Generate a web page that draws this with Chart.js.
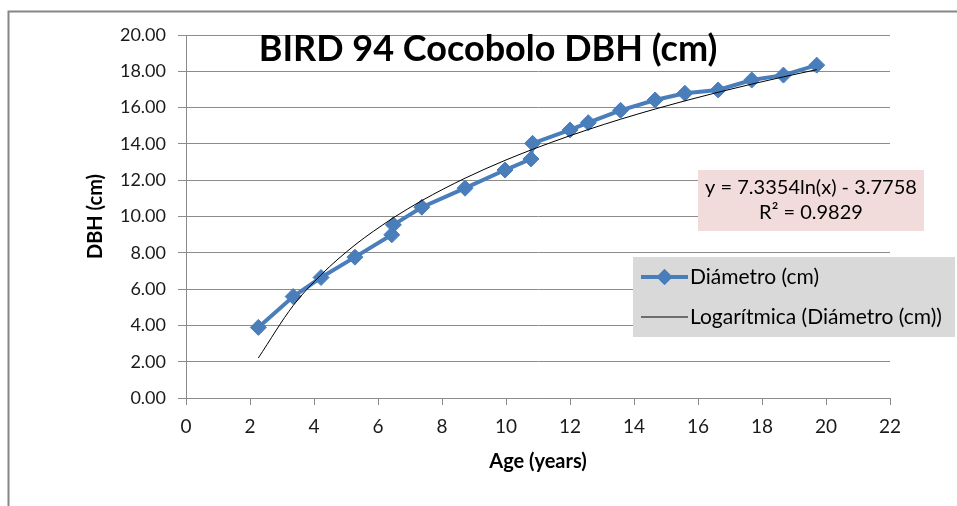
<!DOCTYPE html>
<html>
<head>
<meta charset="utf-8">
<script src="https://cdn.jsdelivr.net/npm/chart.js@4.4.0/dist/chart.umd.min.js"></script>
<style>
html, body { margin: 0; padding: 0; background: #fff; }
#wrap { width: 957px; height: 506px; }
</style>
</head>
<body>
<div id="wrap"><canvas id="dbhCanvas" width="957" height="506"></canvas></div>
<script>
'use strict';

// values
const chartTitle = 'BIRD 94 Cocobolo DBH (cm)';
const seriesName = 'Diámetro (cm)';
const trendName = 'Logarítmica (Diámetro (cm))';
const ages = [2.26, 3.35, 4.22, 5.28, 6.43, 6.48, 7.37, 8.72, 9.97, 10.78, 10.83, 12.0, 12.57, 13.58, 14.66, 15.59, 16.63, 17.68, 18.67, 19.71];
const diameters = [3.89, 5.59, 6.64, 7.76, 8.99, 9.54, 10.51, 11.56, 12.56, 13.17, 14.03, 14.77, 15.17, 15.85, 16.42, 16.79, 16.97, 17.52, 17.79, 18.34];
const xTicks = [0, 2, 4, 6, 8, 10, 12, 14, 16, 18, 20, 22];
const yTicks = [0, 2, 4, 6, 8, 10, 12, 14, 16, 18, 20];

// trendline as printed on the chart
const trendSlope = 7.3354;
const trendIntercept = -3.7758;
const trendR2 = '0.9829';

const FONT = 'Lato, "Open Sans", sans-serif';
const GRID = '#8c8c8c';

const seriesPoints = [];
const trendPoints = [];
for (let i = 0; i < ages.length; i++) {
    seriesPoints.push({x: ages[i], y: diameters[i]});
    trendPoints.push({x: ages[i], y: trendSlope * Math.log(ages[i]) + trendIntercept});
}

//outer frame of the excel chart box
const framePlugin = {
    id: 'frame',
    beforeDraw(chart) {
        const ctx = chart.ctx;
        ctx.save();
        ctx.strokeStyle = '#868686';
        ctx.lineWidth = 2;
        ctx.beginPath();
        ctx.moveTo(8.5, chart.height);
        ctx.lineTo(8.5, 11.5);
        ctx.lineTo(chart.width, 11.5);
        ctx.stroke();
        ctx.restore();
    }
};

// title, equation box and legend drawn on top of the plot like excel does
const overlayPlugin = {
    id: 'overlay',
    afterDraw(chart) {
        const ctx = chart.ctx;
        ctx.save();

        // title
        ctx.fillStyle = '#000';
        ctx.font = 'bold 30px ' + FONT;
        let w = ctx.measureText(chartTitle).width;
        const size = Math.round(30 * 459 / w);
        ctx.font = 'bold ' + size + 'px ' + FONT;
        ctx.textAlign = 'center';
        ctx.textBaseline = 'alphabetic';
        ctx.fillText(chartTitle, 488, 61);

        // equation box
        ctx.fillStyle = '#f2dcdb';
        ctx.fillRect(698, 170, 226, 61);
        ctx.fillStyle = '#000';
        ctx.font = '20px ' + FONT;
        ctx.textBaseline = 'middle';
        const eq = 'y = ' + trendSlope + 'ln(x) - ' + Math.abs(trendIntercept);
        ctx.fillText(eq, 811, 188);
        ctx.fillText('R² = ' + trendR2, 811, 213);

        // legend
        ctx.fillStyle = '#d9d9d9';
        ctx.fillRect(633, 257, 322, 80);
        const rows = [277, 317];
        chart.data.datasets.forEach(function (ds, i) {
            const y = rows[i];
            ctx.strokeStyle = ds.borderColor;
            ctx.lineWidth = ds.borderWidth;
            ctx.beginPath();
            ctx.moveTo(641, y);
            ctx.lineTo(688, y);
            ctx.stroke();
            if (ds.pointRadius > 0) {
                ctx.fillStyle = ds.pointBackgroundColor;
                Chart.helpers.drawPoint(ctx, {pointStyle: ds.pointStyle, radius: ds.pointRadius, borderWidth: 0}, 664.5, y);
                ctx.fill();
            }
            ctx.fillStyle = '#000';
            ctx.font = '21px ' + FONT;
            ctx.textAlign = 'left';
            ctx.fillText(ds.label, 690, y);
        });
        ctx.restore();
    }
};

const ctx = document.getElementById('dbhCanvas').getContext('2d');
const chart = new Chart(ctx, {
    type: 'scatter',
    data: {
        datasets: [
            {
                label: seriesName,
                data: seriesPoints,
                showLine: true,
                borderColor: '#4a7ebb',
                backgroundColor: '#4a7ebb',
                pointBackgroundColor: '#4a7ebb',
                pointBorderColor: '#4a7ebb',
                borderWidth: 4,
                pointStyle: 'rectRot',
                pointRadius: 8,
                pointBorderWidth: 1,
                order: 2
            },
            {
                label: trendName,
                data: trendPoints,
                showLine: true,
                borderColor: '#000',
                borderWidth: 1,
                pointRadius: 0,
                cubicInterpolationMode: 'monotone',
                order: 1
            }
        ]
    },
    options: {
        responsive: false,
        animation: false,
        events: [],
        layout: {padding: {left: 80, right: 67, top: 35, bottom: 0}},
        plugins: {
            legend: {display: false},
            title: {display: false},
            tooltip: {enabled: false}
        },
        scales: {
            x: {
                type: 'linear',
                min: xTicks[0],
                max: xTicks[xTicks.length - 1],
                afterBuildTicks(scale) {
                    scale.ticks = xTicks.map(v => ({value: v}));
                },
                afterFit(scale) { scale.height = 108; },
                grid: {drawOnChartArea: false, drawTicks: true, tickLength: 7, color: GRID},
                border: {color: GRID, width: 1},
                ticks: {color: '#1a1a1a', font: {family: FONT, size: 19}, padding: 10, maxRotation: 0},
                title: {display: true, text: 'Age (years)', color: '#000', font: {family: FONT, size: 20, weight: 'bold'}, padding: {top: 0, bottom: 32}}
            },
            y: {
                type: 'linear',
                min: yTicks[0],
                max: yTicks[yTicks.length - 1],
                afterBuildTicks(scale) {
                    scale.ticks = yTicks.map(v => ({value: v}));
                },
                afterFit(scale) { scale.width = 106; },
                grid: {color: GRID, tickLength: 8, lineWidth: 1},
                border: {color: GRID, width: 1},
                ticks: {color: '#1a1a1a', font: {family: FONT, size: 18}, padding: 12,
                    callback: v => v.toFixed(2)},
                title: {display: true, text: 'DBH (cm)', color: '#000', font: {family: FONT, size: 20, weight: 'bold'}, padding: {top: 4, bottom: 0}}
            }
        }
    },
    plugins: [framePlugin, overlayPlugin]
});
</script>
</body>
</html>
